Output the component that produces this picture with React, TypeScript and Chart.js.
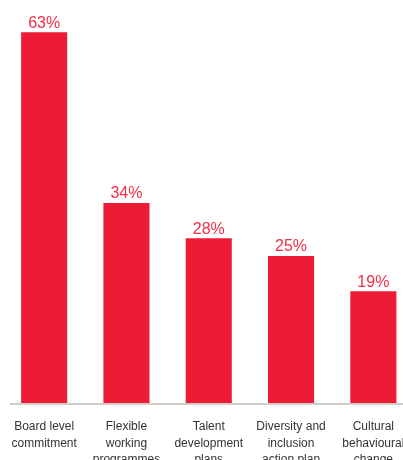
import React, { useEffect, useRef } from "react";
import { Chart, registerables } from "chart.js";

Chart.register(...registerables);

const categories: string[][] = [
  ["Board level", "commitment"],
  ["Flexible", "working", "programmes"],
  ["Talent", "development", "plans"],
  ["Diversity and", "inclusion", "action plan"],
  ["Cultural", "behavioural", "change"],
];
const values: number[] = [63, 34, 28, 25, 19];
const valueLabels: string[] = ["63%", "34%", "28%", "25%", "19%"];

const RED = "#ED1B36";

const valueLabelPlugin = {
  id: "valueLabels",
  afterDatasetsDraw(chart: any) {
    const ctx = chart.ctx;
    const meta = chart.getDatasetMeta(0);
    ctx.save();
    ctx.font = "16px 'Liberation Sans', Arial, sans-serif";
    ctx.fillStyle = "#EF2E47";
    ctx.textAlign = "center";
    ctx.textBaseline = "alphabetic";
    meta.data.forEach((bar: any, i: number) => {
      ctx.fillText(valueLabels[i], bar.x, bar.y - 4.5);
    });
    ctx.restore();
  },
};

const axisLinePlugin = {
  id: "axisLine",
  afterDatasetsDraw(chart: any) {
    const ctx = chart.ctx;
    const y = chart.chartArea.bottom + 1;
    ctx.save();
    ctx.strokeStyle = "#d2cdc7";
    ctx.lineWidth = 2;
    ctx.beginPath();
    ctx.moveTo(10, y);
    ctx.lineTo(chart.width, y);
    ctx.stroke();
    ctx.restore();
  },
};

export default function App() {
  const ref = useRef<HTMLCanvasElement | null>(null);
  useEffect(() => {
    if (!ref.current) return;
    const chart = new Chart(ref.current, {
      type: "bar",
      data: {
        labels: categories,
        datasets: [
          {
            data: values,
            backgroundColor: RED,
            borderWidth: 0,
            barPercentage: 0.56,
            categoryPercentage: 1,
          },
        ],
      },
      options: {
        animation: false,
        responsive: false,
        maintainAspectRatio: false,
        layout: { padding: { left: 3, right: 15.5, top: 20.5, bottom: 0 } },
        plugins: {
          legend: { display: false },
          tooltip: { enabled: false },
        },
        scales: {
          x: {
            grid: { display: false, drawTicks: false },
            border: { display: false },
            ticks: {
              color: "#333333",
              padding: 16,
              maxRotation: 0,
              autoSkip: false,
              font: { family: "'Liberation Sans', Arial, sans-serif", size: 12, lineHeight: 1.35 },
            },
            afterFit(scale: any) {
              scale.height = 77;
              scale.paddingLeft = 0;
              scale.paddingRight = 0;
            },
          },
          y: {
            display: false,
            min: 0,
            max: 65,
          },
        },
      },
      plugins: [valueLabelPlugin, axisLinePlugin],
    });
    return () => chart.destroy();
  }, []);
  return (
    <div
      style={{
        position: "fixed",
        left: 0,
        top: 0,
        width: 403,
        height: 460,
        overflow: "hidden",
        background: "#fff",
      }}
    >
      <canvas ref={ref} width={430} height={480} style={{ width: 430, height: 480, display: "block" }} />
    </div>
  );
}
